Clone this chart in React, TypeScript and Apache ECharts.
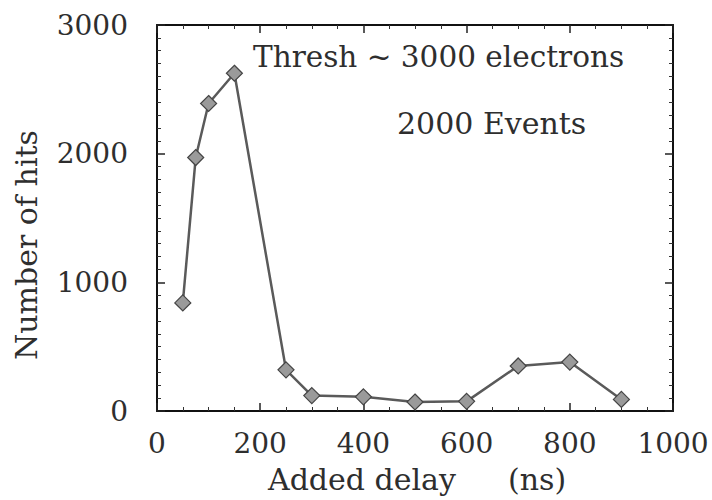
import React, { useEffect, useRef } from "react";
import * as echarts from "echarts";

const delays = [50, 75, 100, 150, 250, 300, 400, 500, 600, 700, 800, 900];
const hits = [840, 1970, 2390, 2625, 320, 120, 110, 70, 75, 350, 380, 90];
const xTicks = { min: 0, max: 1000, interval: 200 };
const yTicks = { min: 0, max: 3000, interval: 1000 };
const annotations = ["Thresh ~ 3000 electrons", "2000 Events"];
const xName = ["Added delay", "(ns)"];
const yName = "Number of hits";

const FONT = "DejaVu Serif";
const TXT = "#2e2e2e";

export default function App() {
  const ref = useRef<HTMLDivElement>(null);
  useEffect(() => {
    if (!ref.current) return;
    const chart = echarts.init(ref.current, null, { renderer: "svg" });
    const axisLine = { show: true, onZero: false, lineStyle: { color: "#111", width: 2 } };
    const tick = { show: true, inside: true, length: 8, lineStyle: { color: "#222", width: 1.5 } };
    const minor = (n: number) => ({ show: true, splitNumber: n, length: 4, lineStyle: { color: "#333", width: 1 } });
    const fmt = (v: number) => String(v);
    chart.setOption({
      animation: false,
      backgroundColor: "#fff",
      grid: { left: 157, right: 39, top: 25, bottom: 89 },
      xAxis: [
        {
          type: "value", ...xTicks, position: "bottom",
          axisLine, axisTick: tick, minorTick: minor(4), splitLine: { show: false },
          axisLabel: { fontFamily: FONT, fontSize: 28, color: TXT, margin: 18, formatter: fmt },
        },
        {
          type: "value", ...xTicks, position: "top",
          axisLine, axisTick: tick, minorTick: minor(4), splitLine: { show: false },
          axisLabel: { show: false },
        },
      ],
      yAxis: [
        {
          type: "value", ...yTicks, position: "left",
          axisLine, axisTick: tick, minorTick: minor(10), splitLine: { show: false },
          axisLabel: { fontFamily: FONT, fontSize: 28, color: TXT, margin: 29, formatter: fmt },
        },
        {
          type: "value", ...yTicks, position: "right",
          axisLine, axisTick: tick, minorTick: minor(10), splitLine: { show: false },
          axisLabel: { show: false },
        },
      ],
      series: [
        {
          type: "line",
          data: delays.map((d, i) => [d, hits[i]]),
          symbol: "diamond",
          symbolSize: 16,
          lineStyle: { color: "#5a5a5a", width: 2.5 },
          itemStyle: { color: "#9a9a9a", borderColor: "#444", borderWidth: 1.2 },
        },
      ],
      graphic: [
        { type: "text", left: 253, top: 42, style: { text: annotations[0], font: `29.5px "${FONT}"`, fill: TXT } },
        { type: "text", left: 397, top: 108, style: { text: annotations[1], font: `30px "${FONT}"`, fill: TXT } },
        { type: "text", left: 268, top: 464, style: { text: xName[0], font: `30px "${FONT}"`, fill: TXT } },
        { type: "text", left: 508, top: 464, style: { text: xName[1], font: `30px "${FONT}"`, fill: TXT } },
        {
          type: "text", x: 11, y: 360, rotation: Math.PI / 2,
          style: { text: yName, font: `30px "${FONT}"`, fill: TXT, textVerticalAlign: "top" },
        },
      ],
    });
    return () => chart.dispose();
  }, []);
  return <div ref={ref} style={{ width: 712, height: 500, position: "absolute", left: 0, top: 0 }} />;
}
